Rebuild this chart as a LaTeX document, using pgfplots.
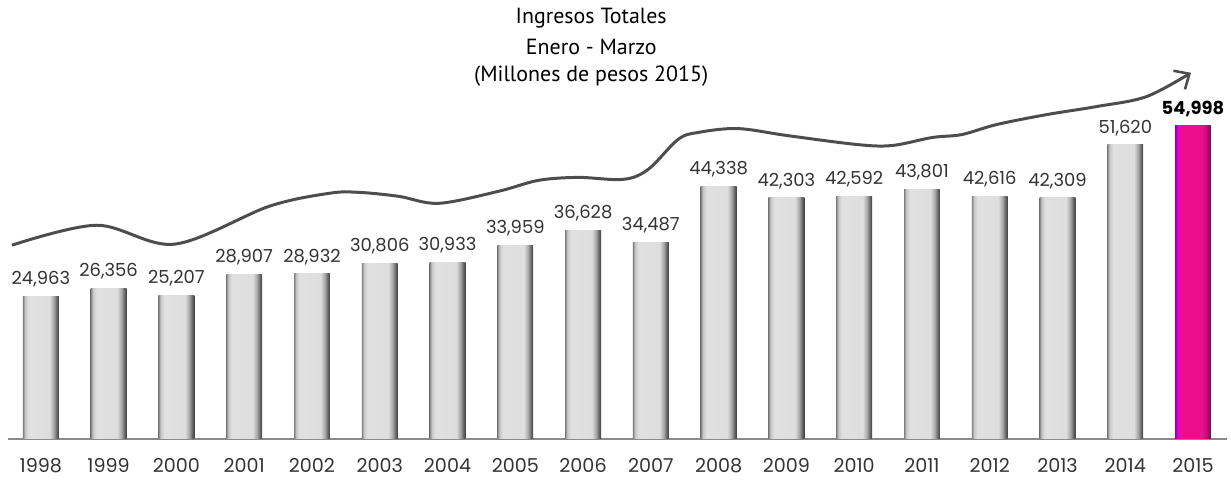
\documentclass[border=0pt]{standalone}
\usepackage{pgfplots}
\pgfplotsset{compat=1.18}
\usepackage{fontspec}
\setmainfont{Poppins}
\newfontfamily\titlefont{PT Sans}
\usetikzlibrary{arrows.meta}
\definecolor{lbl}{HTML}{333333}
\definecolor{curve}{HTML}{4D4D4D}
\definecolor{base}{HTML}{8A8A8A}
\pgfdeclarehorizontalshading{grayshade}{100bp}{%
 color(0bp)=(black!50); color(25bp)=(black!50); color(28bp)=(black!22);
 color(33bp)=(black!12); color(62bp)=(black!13); color(68bp)=(black!35);
 color(72bp)=(black!60); color(75bp)=(black!75); color(100bp)=(black!75)}
\pgfdeclarehorizontalshading{pinkshade}{100bp}{%
 color(0bp)=(magenta!60!black); color(25bp)=(magenta!60!black);
 color(29bp)=(magenta!90!black); color(33bp)=({rgb,255:red,236;green,14;blue,140});
 color(63bp)=({rgb,255:red,236;green,14;blue,140}); color(69bp)=({rgb,255:red,200;green,10;blue,115});
 color(75bp)=({rgb,255:red,110;green,10;blue,70}); color(100bp)=({rgb,255:red,110;green,10;blue,70})}
\pgfplotsset{
  graybar/.style={draw=none, shading=grayshade, bar shift=0pt,
    nodes near coords={\pgfmathprintnumber[1000 sep={,},fixed,precision=0,assume math mode=true]{\pgfplotspointmeta}},
    every node near coord/.append style={font=\fontsize{9}{10}\selectfont, text=lbl, yshift=1pt}},
}
\begin{document}
\begin{tikzpicture}
\begin{axis}[
  scale only axis, width=615.5pt, height=190pt,
  xmin=-0.603, xmax=17.5, ymin=0, ymax=66557,
  clip=false,
  axis line style={draw=none},
  ytick=\empty,
  xtick={0,...,17},
  xticklabels={1998,1999,2000,2001,2002,2003,2004,2005,2006,2007,2008,2009,2010,2011,2012,2013,2014,2015},
  major tick length=0pt,
  xticklabel style={anchor=base, yshift=-17pt, font=\fontsize{9.6}{10}\selectfont, text=lbl},
  ybar, bar width=18pt,
]
\draw[base, line width=1pt] (axis cs:-0.485,0) -- (axis cs:17.5,0);
\addplot[graybar] coordinates {(0,24963)};
\addplot[graybar] coordinates {(1,26356)};
\addplot[graybar] coordinates {(2,25207)};
\addplot[graybar] coordinates {(3,28907)};
\addplot[graybar] coordinates {(4,28932)};
\addplot[graybar] coordinates {(5,30806)};
\addplot[graybar] coordinates {(6,30933)};
\addplot[graybar] coordinates {(7,33959)};
\addplot[graybar] coordinates {(8,36628)};
\addplot[graybar] coordinates {(9,34487)};
\addplot[graybar] coordinates {(10,44338)};
\addplot[graybar] coordinates {(11,42303)};
\addplot[graybar] coordinates {(12,42592)};
\addplot[graybar] coordinates {(13,43801)};
\addplot[graybar] coordinates {(14,42616)};
\addplot[graybar] coordinates {(15,42309)};
\addplot[graybar] coordinates {(16,51620)};
\addplot[draw=none, shading=pinkshade, bar shift=0pt,
  nodes near coords={\pgfmathprintnumber[1000 sep={,},fixed,precision=0,assume math mode=true]{\pgfplotspointmeta}},
  every node near coord/.append style={font=\bfseries\fontsize{9}{10}\selectfont, text=black, yshift=1pt}]
 coordinates {(17,54998)};
\addplot[sharp plot, smooth, tension=0.55, curve, line width=1.5pt, mark=none,
  -{Straight Barb[length=6pt,width=11pt,line width=1.3pt]}]
 coordinates {(-0.426,33979) (0.824,37482) (1.971,34154) (3.368,40810) (4.25,43087) (4.69,43262)
 (5.28,42562) (5.87,41335) (6.75,43437) (7.34,45364) (7.93,45889) (8.59,45539) (8.96,47291)
 (9.40,52545) (9.69,53771) (10.28,54472) (11.01,53246) (12.04,51669) (12.56,51494) (13.15,52896)
 (13.59,53421) (14.10,55172) (14.84,56924) (15.57,58325) (16.31,60076) (16.97,64280)};
\node[font=\titlefont\fontsize{11}{12}\selectfont] at (axis cs:8.12,73913) {Ingresos Totales};
\node[font=\titlefont\fontsize{11}{12}\selectfont] at (axis cs:8.12,68834) {Enero - Marzo};
\node[font=\titlefont\fontsize{11}{12}\selectfont] at (axis cs:8.12,63755) {(Millones de pesos 2015)};
\path (axis cs:-0.603,-7356) rectangle (axis cs:17.5,77066);
\end{axis}
\end{tikzpicture}
\end{document}
